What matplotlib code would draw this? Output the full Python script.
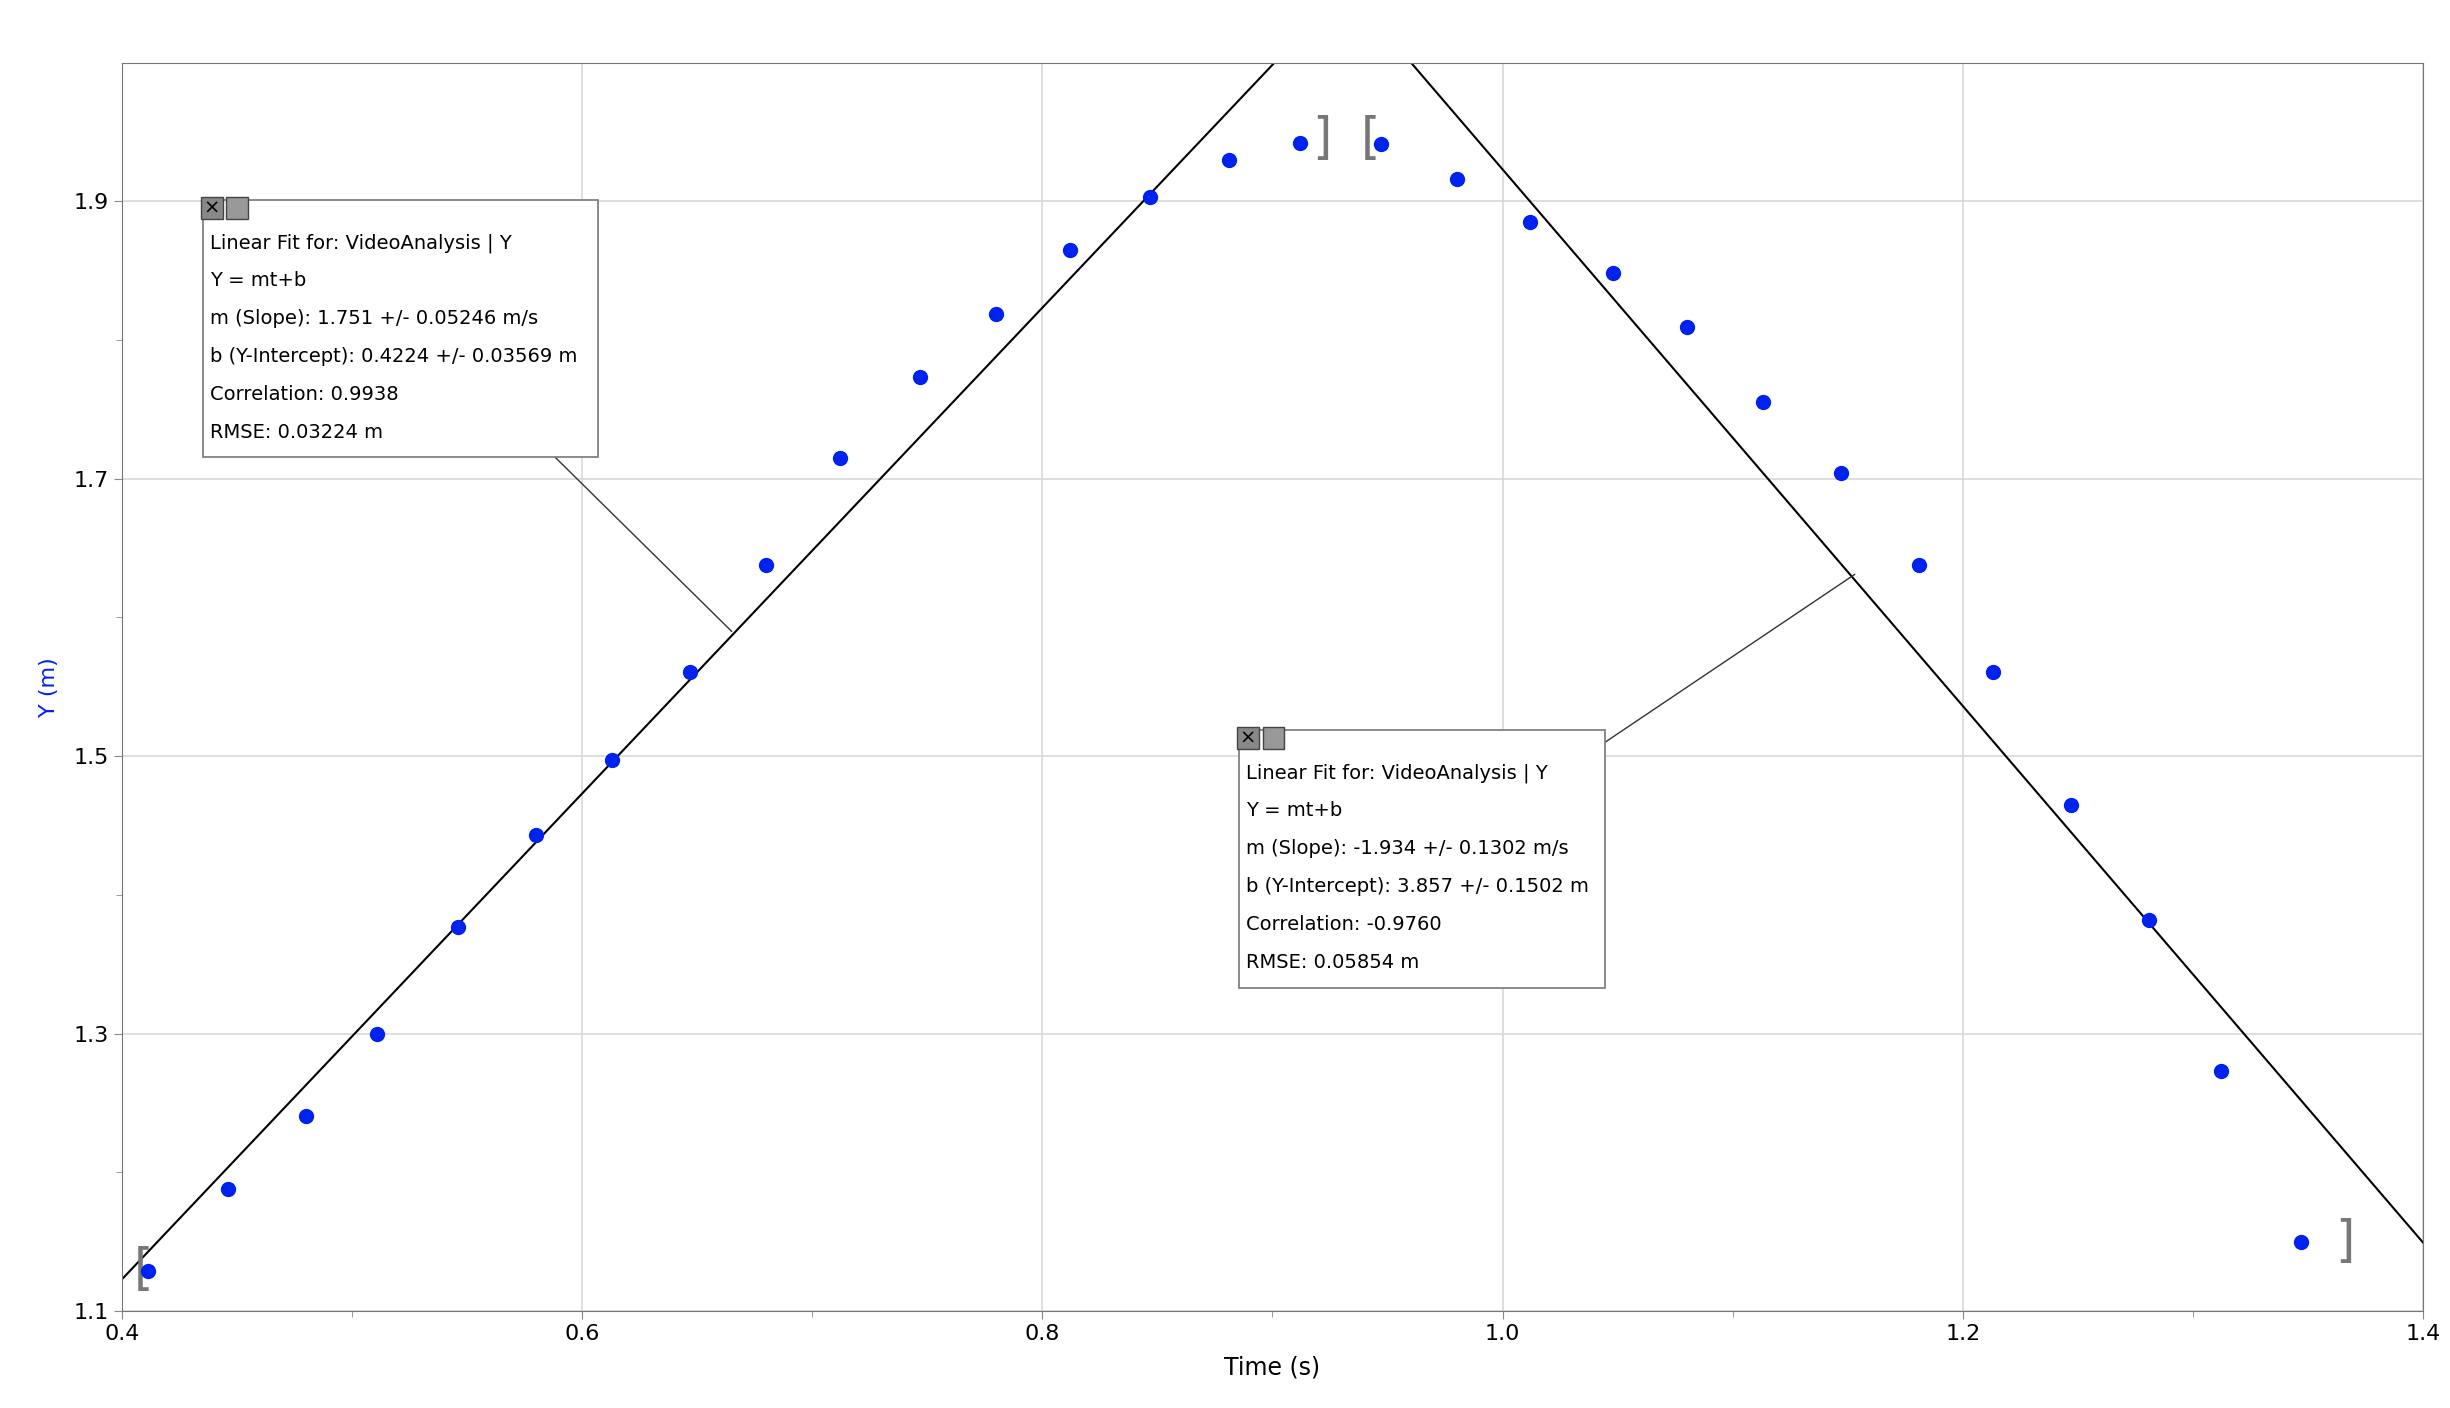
import numpy as np
import matplotlib.pyplot as plt
from matplotlib.patches import Rectangle

t = [0.4115, 0.446, 0.480, 0.511, 0.546, 0.580, 0.613, 0.647, 0.680, 0.712,
     0.747, 0.780, 0.812, 0.847, 0.881, 0.912, 0.947, 0.980, 1.012, 1.048,
     1.080, 1.113, 1.147, 1.181, 1.213, 1.247, 1.281, 1.312, 1.347]
y = [1.129, 1.188, 1.241, 1.300, 1.377, 1.443, 1.497, 1.561, 1.638, 1.715,
     1.773, 1.819, 1.865, 1.903, 1.930, 1.942, 1.941, 1.916, 1.885, 1.848,
     1.809, 1.755, 1.704, 1.638, 1.561, 1.465, 1.382, 1.273, 1.150]

fit1 = (1.751, 0.4224)
fit2 = (-1.934, 3.857)
box1 = ["Linear Fit for: VideoAnalysis | Y", "Y = mt+b",
        "m (Slope): 1.751 +/- 0.05246 m/s", "b (Y-Intercept): 0.4224 +/- 0.03569 m",
        "Correlation: 0.9938", "RMSE: 0.03224 m"]
box2 = ["Linear Fit for: VideoAnalysis | Y", "Y = mt+b",
        "m (Slope): -1.934 +/- 0.1302 m/s", "b (Y-Intercept): 3.857 +/- 0.1502 m",
        "Correlation: -0.9760", "RMSE: 0.05854 m"]

fig = plt.figure(figsize=(24.5, 14.08), dpi=100)
ax = fig.add_axes([0.0497, 0.0688, 0.9393, 0.8868])
ax.set_xlim(0.4, 1.4)
ax.set_ylim(1.1, 2.0)
ax.set_xticks([0.4, 0.6, 0.8, 1.0, 1.2, 1.4])
ax.set_yticks([1.1, 1.3, 1.5, 1.7, 1.9])
ax.set_xticks(np.arange(0.5, 1.4, 0.2), minor=True)
ax.set_yticks(np.arange(1.2, 2.0, 0.2), minor=True)
ax.grid(True, which='major', color='#d8d8d8', lw=1.2)
ax.tick_params(labelsize=16, length=6, color='#888888')
ax.tick_params(which='minor', length=4, color='#888888')
for s in ax.spines.values():
    s.set_color('#777777')

xs = np.array([0.4, 1.4])
ax.plot(xs, fit1[0] * xs + fit1[1], color='black', lw=1.5)
ax.plot(xs, fit2[0] * xs + fit2[1], color='black', lw=1.5)
ax.plot(t, y, 'o', color='#0022ee', ms=10, zorder=5)

# range brackets
for xb, yb, txt in [(0.4095, 1.130, '['), (0.9215, 1.945, ']'),
                    (0.9425, 1.945, '['), (1.366, 1.150, ']')]:
    ax.text(xb, yb, txt, fontsize=36, color='#777777', ha='center', va='center')

ax.set_xlabel("Time (s)", fontsize=17, labelpad=8)
ax.set_ylabel("Y (m)", fontsize=16, color='#0022ee', labelpad=10)


def fit_box(x0, y0, x1, y1, lines, lx, ly, px, py):
    ax.plot([lx, px], [ly, py], color='#333333', lw=1)
    ax.add_patch(Rectangle((x0, y0), x1 - x0, y1 - y0, facecolor='white',
                           edgecolor='#777777', lw=1.2, zorder=6))
    for i, ln in enumerate(lines):
        ax.text(x0 + 0.003, y1 - 0.031 - i * 0.0273, ln, fontsize=14,
                va='center', zorder=7)
    for k, c in enumerate(['#888888', '#999999']):
        ax.add_patch(Rectangle((x0 - 0.001 + k * 0.011, y1 - 0.014), 0.0095,
                               0.016, facecolor=c, edgecolor='#444444', zorder=8))
    ax.text(x0 + 0.0037, y1 - 0.006, '×', fontsize=14, ha='center',
            va='center', zorder=9)


fit_box(0.4353, 1.716, 0.607, 1.901, box1, 0.588, 1.716, 0.665, 1.590)
fit_box(0.8857, 1.333, 1.0445, 1.519, box2, 1.0445, 1.510, 1.153, 1.631)

plt.savefig("out.png")
